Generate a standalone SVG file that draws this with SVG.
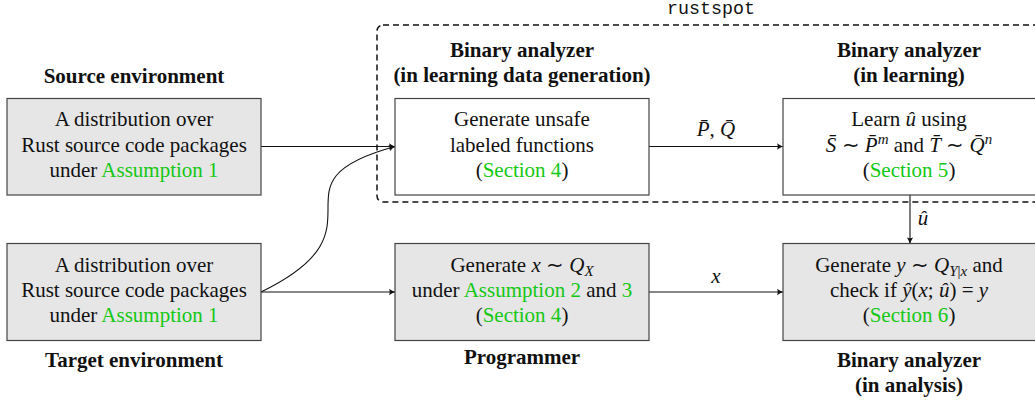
<svg xmlns="http://www.w3.org/2000/svg" width="1035" height="402" viewBox="0 0 1035 402">
<style>
  text { font-family: "Liberation Serif", "Times New Roman", serif; font-size: 21px; fill: #111; text-anchor: middle; }
  .b { font-weight: bold; }
  .i { font-style: italic; }
  .g { fill: #14c814; }
  .sm { font-size: 15px; }
  .mono { font-family: "Liberation Mono", "Courier New", monospace; font-size: 18.3px; }
  .box { stroke: #444; stroke-width: 1.2; }
  .gray { fill: #e6e6e6; }
  .white { fill: #fff; }
  .conn { fill: none; stroke: #111; stroke-width: 1.1; }
  .dash { fill: none; stroke: #111; stroke-width: 1.5; stroke-dasharray: 6 4; }
</style>
<defs>
  <marker id="arr" viewBox="-7 -4 8 8" refX="0" refY="0" markerWidth="8" markerHeight="8" markerUnits="userSpaceOnUse" orient="auto">
    <path d="M0.5,0 C-1.5,-0.6 -4,-1.8 -6,-3.2 C-5,-1.2 -5,1.2 -6,3.2 C-4,1.8 -1.5,0.6 0.5,0 Z" fill="#111"/>
  </marker>
</defs>

<rect width="1035" height="402" fill="#fff"/>

<g id="rustspot">
  <rect class="dash" x="377" y="25" width="668" height="177" rx="6"/>
  <text class="mono" x="711" y="13.5">rustspot</text>
</g>

<g id="connectors">
  <path class="conn" d="M261,146.5 L395,146.5" marker-end="url(#arr)"/>
  <path class="conn" d="M261,292 C395,227 261,183 395,146.5" marker-end="url(#arr)"/>
  <path class="conn" d="M261,292 L395,292" marker-end="url(#arr)"/>
  <path class="conn" d="M649,146.5 L783,146.5" marker-end="url(#arr)"/>
  <text x="716" y="136"><tspan class="i">P̄</tspan>, <tspan class="i">Q̄</tspan></text>
  <path class="conn" d="M649,292 L783,292" marker-end="url(#arr)"/>
  <text class="i" x="716" y="283">x</text>
  <path class="conn" d="M910,195 L910,243.5" marker-end="url(#arr)"/>
  <text class="i" x="923" y="225">û</text>
</g>

<g id="source">
  <text class="b" x="134" y="82.5">Source environment</text>
  <rect class="box gray" x="7" y="98.5" width="254" height="96.5"/>
  <text x="134" y="126">A distribution over</text>
  <text x="134" y="151.5">Rust source code packages</text>
  <text x="134" y="176.5">under <tspan class="g">Assumption 1</tspan></text>
</g>

<g id="target">
  <rect class="box gray" x="7" y="243.5" width="254" height="97"/>
  <text x="134" y="271.5">A distribution over</text>
  <text x="134" y="297">Rust source code packages</text>
  <text x="134" y="322">under <tspan class="g">Assumption 1</tspan></text>
  <text class="b" x="134" y="366.5">Target environment</text>
</g>

<g id="datagen">
  <text class="b" x="522" y="57">Binary analyzer</text>
  <text class="b" x="522" y="82">(in learning data generation)</text>
  <rect class="box white" x="395" y="98.5" width="254" height="96.5"/>
  <text x="522" y="126">Generate unsafe</text>
  <text x="522" y="151.5">labeled functions</text>
  <text x="522" y="176.5">(<tspan class="g">Section 4</tspan>)</text>
</g>

<g id="learning">
  <text class="b" x="909" y="57">Binary analyzer</text>
  <text class="b" x="909" y="82">(in learning)</text>
  <rect class="box white" x="783" y="98.5" width="256" height="96.5"/>
  <text x="909" y="126">Learn <tspan class="i">û</tspan> using</text>
  <text x="909" y="151.5"><tspan class="i">S̄</tspan> ∼ <tspan class="i">P̄</tspan><tspan class="i sm" dy="-8">m</tspan><tspan dy="8"> and </tspan><tspan class="i">T̄</tspan> ∼ <tspan class="i">Q̄</tspan><tspan class="i sm" dy="-8">n</tspan></text>
  <text x="909" y="176.5">(<tspan class="g">Section 5</tspan>)</text>
</g>

<g id="programmer">
  <rect class="box gray" x="395" y="243.5" width="254" height="97"/>
  <text x="522" y="271.5">Generate <tspan class="i">x</tspan> ∼ <tspan class="i">Q</tspan><tspan class="i sm" dy="4">X</tspan></text>
  <text x="522" y="297">under <tspan class="g">Assumption 2</tspan> and <tspan class="g">3</tspan></text>
  <text x="522" y="322">(<tspan class="g">Section 4</tspan>)</text>
  <text class="b" x="522" y="364">Programmer</text>
</g>

<g id="analysis">
  <rect class="box gray" x="783" y="243.5" width="256" height="97"/>
  <text x="909" y="271.5">Generate <tspan class="i">y</tspan> ∼ <tspan class="i">Q</tspan><tspan class="sm" dy="4"><tspan class="i">Y</tspan>|<tspan class="i">x</tspan></tspan><tspan dy="-4"> and</tspan></text>
  <text x="909" y="297">check if <tspan class="i">ŷ</tspan>(<tspan class="i">x</tspan>; <tspan class="i">û</tspan>) = <tspan class="i">y</tspan></text>
  <text x="909" y="322">(<tspan class="g">Section 6</tspan>)</text>
  <text class="b" x="909" y="366.5">Binary analyzer</text>
  <text class="b" x="909" y="391.5">(in analysis)</text>
</g>
</svg>
